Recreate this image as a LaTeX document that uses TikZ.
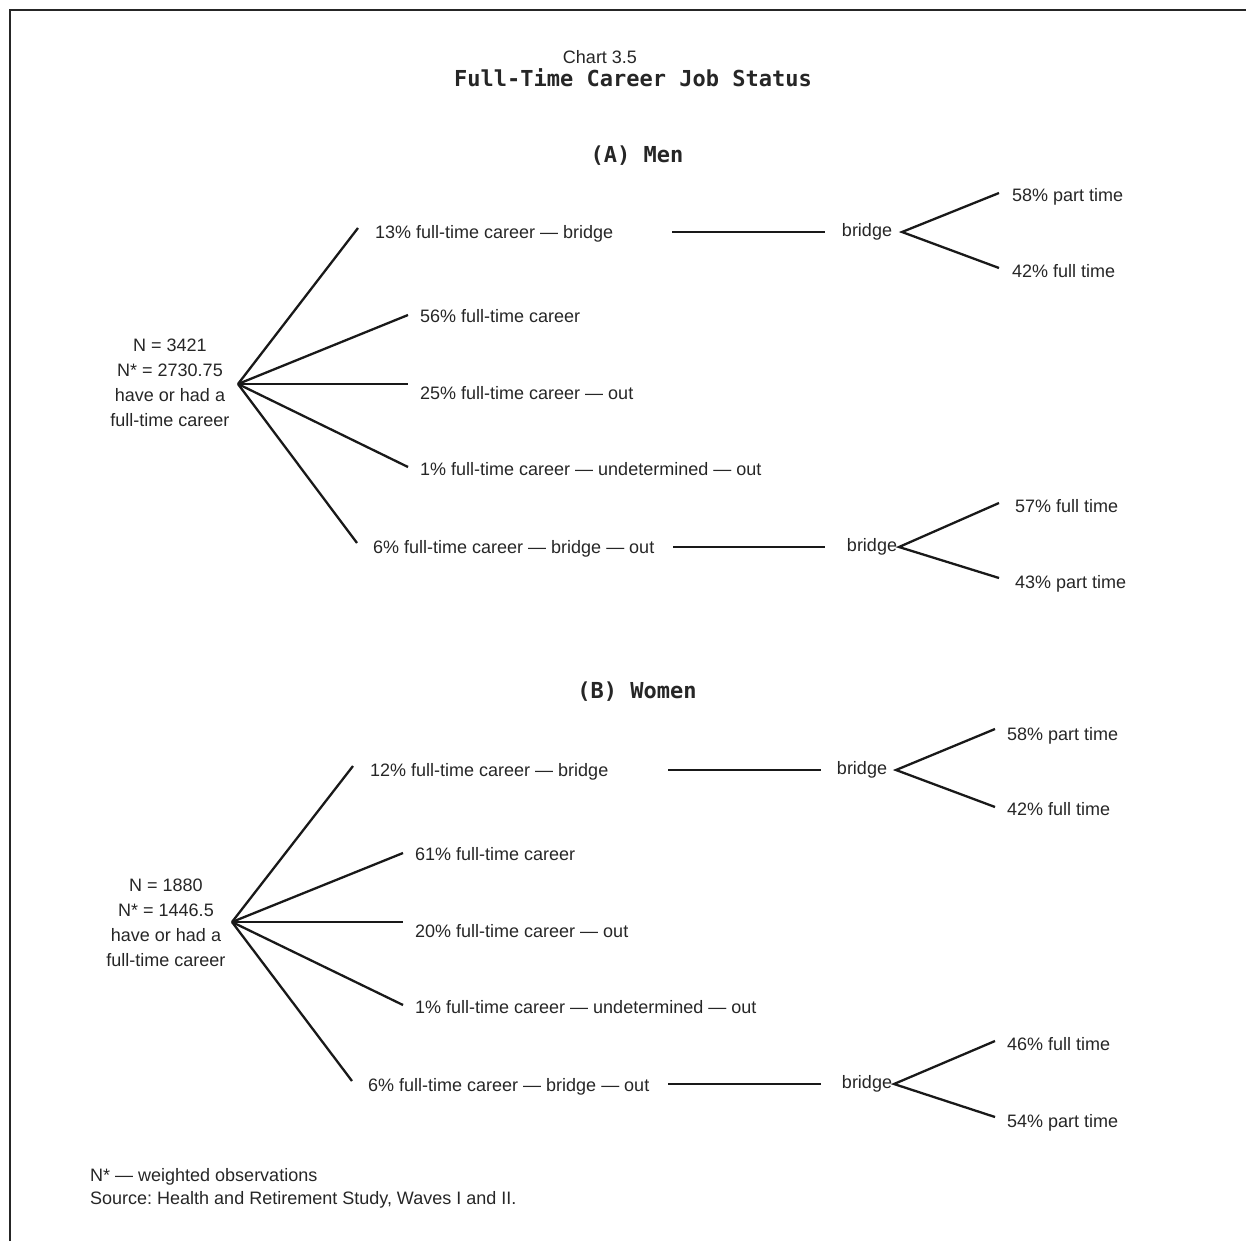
\documentclass[tikz,border=0pt]{standalone}
\usepackage{fontspec}
\setmainfont{Liberation Sans}
\newfontfamily\titlefont{DejaVu Sans Mono}
\usetikzlibrary{positioning,calc}
\frenchspacing

\begin{document}
\begin{tikzpicture}[x=1pt, y=-1pt,
  txt/.style={font=\fontsize{18}{25}\selectfont, text=black!85, inner sep=0pt},
  lbl/.style={txt, anchor=base west},
  head/.style={font=\titlefont\bfseries\fontsize{22}{26}\selectfont, text=black!85, inner sep=0pt},
  link/.style={line width=2.3pt, black!90}]

\useasboundingbox (0,0) rectangle (1246,1241);

% frame
\draw[line width=2.5pt, black!85] (10,1241) -- (10,10) -- (1246,10);

% title
\node[txt] (chartno) at (600,57) {Chart 3.5};
\node[head] (title) at (633,78) {Full-Time Career Job Status};

% (A) Men
\node[head] (menhead) at (637,156) {(A) Men};
\node[txt, align=center] (mroot) at (170,383) {N = 3421\\N* = 2730.75\\have or had a\\full-time career};
\coordinate (mfan) at (238,384);
\coordinate (m1) at (358,228);
\coordinate (m2) at (408,315);
\coordinate (m3) at (408,384);
\coordinate (m4) at (408,467);
\coordinate (m5) at (357,543);
\node[lbl] (mbr) at (375,238) {13\% full-time career — bridge};
\node[lbl] (mft) at (420,322) {56\% full-time career};
\node[lbl] (mout) at (420,399) {25\% full-time career — out};
\node[lbl] (mund) at (420,475) {1\% full-time career — undetermined — out};
\node[lbl] (mbrout) at (373,553) {6\% full-time career — bridge — out};
\foreach \e in {m1,m2,m3,m4,m5}
  \draw[link] (mfan) -- (\e);

% men bridge (upper)
\coordinate (mba) at (672,232);
\coordinate (mbb) at (825,232);
\node[txt] (mbridge) at (867,232) {bridge};
\coordinate (mbfork) at (902,232);
\coordinate (mbup) at (999,193);
\coordinate (mbdn) at (999,268);
\node[lbl] (mbpart) at (1012,202) {58\% part time};
\node[lbl] (mbfull) at (1012,277) {42\% full time};
\draw[link] (mba) -- (mbb);
\draw[link] (mbup) -- (mbfork) -- (mbdn);

% men bridge (lower)
\coordinate (mca) at (673,547);
\coordinate (mcb) at (825,547);
\node[txt] (mbridgeout) at (872,547) {bridge};
\coordinate (mcfork) at (899,547);
\coordinate (mcup) at (999,503);
\coordinate (mcdn) at (999,578);
\node[lbl] (mcfull) at (1015,512) {57\% full time};
\node[lbl] (mcpart) at (1015,588) {43\% part time};
\draw[link] (mca) -- (mcb);
\draw[link] (mcup) -- (mcfork) -- (mcdn);

% (B) Women
\node[head] (womenhead) at (637,692) {(B) Women};
\node[txt, align=center] (wroot) at (166,923) {N = 1880\\N* = 1446.5\\have or had a\\full-time career};
\coordinate (wfan) at (232,922);
\coordinate (w1) at (353,766);
\coordinate (w2) at (403,853);
\coordinate (w3) at (403,922);
\coordinate (w4) at (403,1005);
\coordinate (w5) at (352,1081);
\node[lbl] (wbr) at (370,776) {12\% full-time career — bridge};
\node[lbl] (wft) at (415,860) {61\% full-time career};
\node[lbl] (wout) at (415,937) {20\% full-time career — out};
\node[lbl] (wund) at (415,1013) {1\% full-time career — undetermined — out};
\node[lbl] (wbrout) at (368,1091) {6\% full-time career — bridge — out};
\foreach \e in {w1,w2,w3,w4,w5}
  \draw[link] (wfan) -- (\e);

% women bridge (upper)
\coordinate (wba) at (668,770);
\coordinate (wbb) at (821,770);
\node[txt] (wbridge) at (862,770) {bridge};
\coordinate (wbfork) at (896,770);
\coordinate (wbup) at (995,729);
\coordinate (wbdn) at (995,807);
\node[lbl] (wbpart) at (1007,740) {58\% part time};
\node[lbl] (wbfull) at (1007,815) {42\% full time};
\draw[link] (wba) -- (wbb);
\draw[link] (wbup) -- (wbfork) -- (wbdn);

% women bridge (lower)
\coordinate (wca) at (668,1084);
\coordinate (wcb) at (821,1084);
\node[txt] (wbridgeout) at (867,1084) {bridge};
\coordinate (wcfork) at (894,1084);
\coordinate (wcup) at (995,1041);
\coordinate (wcdn) at (995,1117);
\node[lbl] (wcfull) at (1007,1050) {46\% full time};
\node[lbl] (wcpart) at (1007,1127) {54\% part time};
\draw[link] (wca) -- (wcb);
\draw[link] (wcup) -- (wcfork) -- (wcdn);

% notes
\node[lbl] (note) at (90,1181) {N* — weighted observations};
\node[lbl] (source) at (90,1204) {Source: Health and Retirement Study, Waves I and II.};
\end{tikzpicture}
\end{document}
